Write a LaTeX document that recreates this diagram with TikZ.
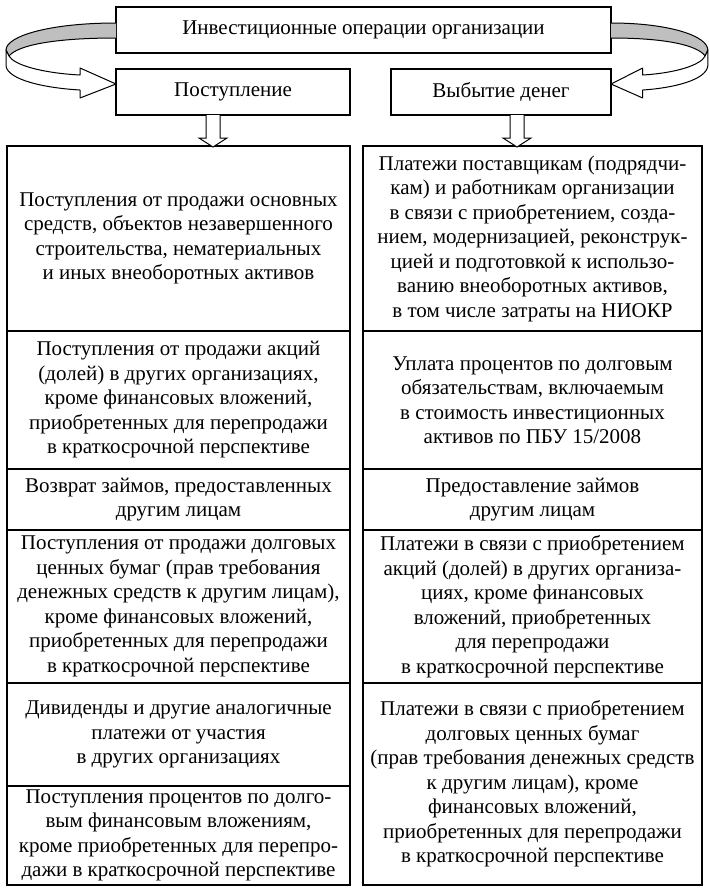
\documentclass[tikz,border=0pt]{standalone}
\usepackage{fontspec}
\setmainfont{Liberation Serif}
\newcommand{\cellnode}[6]{%
  \node[cell, minimum width={(#4-#2)*0.5pt}, minimum height={(#5-#3)*0.5pt}]
    (#1) at ({(#2+#4)/2},{(#3+#5)/2}) {#6};}
\tikzset{
  cell/.style={draw, line width=0.6pt, inner sep=0pt, align=center,
    font=\fontsize{10.5}{12.25}\selectfont},
  ribbonback/.style={draw, line width=0.5pt, fill=black!25, line join=round},
  ribbonfront/.style={draw, line width=0.5pt, fill=white, line join=round},
  blockarrow/.style={draw, line width=0.5pt, fill=white, line join=miter},
}
\begin{document}
\begin{tikzpicture}[x=0.5pt, y=-0.5pt]
\useasboundingbox (0,0) rectangle (710,891);
% header boxes
\cellnode{top}{116}{7}{611}{53}{Инвестиционные операции организации}
\cellnode{inc}{116}{69}{350}{115}{Поступление}
\cellnode{out}{391}{69}{611}{115}{Выбытие денег}
% left column
\cellnode{l1}{7}{146}{350}{331}{Поступления от продажи основных\\средств, объектов незавершенного\\строительства, нематериальных\\и иных внеоборотных активов}
\cellnode{l2}{7}{331}{350}{469}{Поступления от продажи акций\\(долей) в других организациях,\\кроме финансовых вложений,\\приобретенных для перепродажи\\в краткосрочной перспективе}
\cellnode{l3}{7}{469}{350}{530}{Возврат займов, предоставленных\\другим лицам}
\cellnode{l4}{7}{530}{350}{683}{Поступления от продажи долговых\\ценных бумаг (прав требования\\денежных средств к другим лицам),\\кроме финансовых вложений,\\приобретенных для перепродажи\\в краткосрочной перспективе}
\cellnode{l5}{7}{683}{350}{786}{Дивиденды и другие аналогичные\\платежи от участия\\в других организациях}
\cellnode{l6}{7}{786}{350}{885}{Поступления процентов по долго-\\вым финансовым вложениям,\\кроме приобретенных для перепро-\\дажи в краткосрочной перспективе}
% right column
\cellnode{r1}{363}{146}{702}{331}{Платежи поставщикам (подрядчи-\\кам) и работникам организации\\в связи с приобретением, созда-\\нием, модернизацией, реконструк-\\цией и подготовкой к использо-\\ванию внеоборотных активов,\\в том числе затраты на НИОКР}
\cellnode{r2}{363}{331}{702}{469}{Уплата процентов по долговым\\обязательствам, включаемым\\в стоимость инвестиционных\\активов по ПБУ 15/2008}
\cellnode{r3}{363}{469}{702}{530}{Предоставление займов\\другим лицам}
\cellnode{r4}{363}{530}{702}{683}{Платежи в связи с приобретением\\акций (долей) в других организа-\\циях, кроме финансовых\\вложений, приобретенных\\для перепродажи\\в краткосрочной перспективе}
\cellnode{r5}{363}{683}{702}{885}{Платежи в связи с приобретением\\долговых ценных бумаг\\(прав требования денежных средств\\к другим лицам), кроме\\финансовых вложений,\\приобретенных для перепродажи\\в краткосрочной перспективе}
% down block arrows
\draw[blockarrow] (206,115) -- (206,138) -- (199,138) -- (213,147) -- (227,138) -- (220,138) -- (220,115);
\draw[blockarrow] (510,115) -- (510,138) -- (503,138) -- (517,147) -- (531,138) -- (524,138) -- (524,115);
% left ribbon arrow
\path[ribbonback] (116,23) .. controls (50,23) and (6,36) .. (6,50)
  -- (9,56) .. controls (18,45) and (55,38) .. (116,38);
\path[ribbonfront] (6,50) -- (6,66) .. controls (8,80) and (45,88) .. (80,90)
  -- (80,98) -- (116,84) -- (80,68) -- (80,75)
  .. controls (42,73) and (14,65) .. (9,56) -- cycle;
% right ribbon arrow (mirrored)
\begin{scope}[shift={(713.1,0)}, xscale=-0.88]
\path[ribbonback] (116,23) .. controls (50,23) and (6,36) .. (6,50)
  -- (9,56) .. controls (18,45) and (55,38) .. (116,38);
\path[ribbonfront] (6,50) -- (6,66) .. controls (8,80) and (45,88) .. (80,90)
  -- (80,98) -- (116,84) -- (80,68) -- (80,75)
  .. controls (42,73) and (14,65) .. (9,56) -- cycle;
\end{scope}
\end{tikzpicture}
\end{document}
